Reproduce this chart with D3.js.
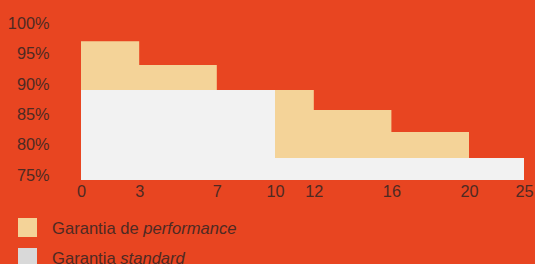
<!DOCTYPE html>
<html><head><meta charset="utf-8">
<script src="https://cdn.jsdelivr.net/npm/d3@7"></script>
<style>
html,body{margin:0;padding:0;background:#E84521;}
svg{display:block;}
text{font-family:"Liberation Sans",Arial,sans-serif;}
</style></head><body>
<div id="chart"></div>
<script>
// Data
const xTicks = [0, 3, 7, 10, 12, 16, 20, 25];
const yTicks = [75, 80, 85, 90, 95, 100];
const performanceSteps = [
  {x0: 0, x1: 3, v: 97.0},
  {x0: 3, x1: 7, v: 93.1},
  {x0: 7, x1: 10, v: 89.0},
  {x0: 10, x1: 12, v: 89.0},
  {x0: 12, x1: 16, v: 85.7},
  {x0: 16, x1: 20, v: 82.1},
  {x0: 20, x1: 25, v: 77.8}
];
const standardSteps = [
  {x0: 0, x1: 10, v: 89.0},
  {x0: 10, x1: 25, v: 77.8}
];
const legendItems = [
  {plain: "Garantia de ", italic: "performance", color: "#F4D398"},
  {plain: "Garantia ", italic: "standard", color: "#D9D9D9"}
];

const W = 535, H = 264;
const bg = "#E84521", textColor = "#4e2a23";
const svg = d3.select("#chart").append("svg").attr("width", W).attr("height", H);
svg.append("rect").attr("width", W).attr("height", H).attr("fill", bg);

const x = d3.scaleLinear().domain([0, 20, 25]).range([81, 469, 524]);
const y = d3.scaleLinear().domain([74.2, 100]).range([180, 23]);

function stepPath(steps) {
  const pts = [];
  steps.forEach(s => { pts.push([s.x0, s.v]); pts.push([s.x1, s.v]); });
  return d3.area().x(d => x(d[0])).y0(y.range()[0]).y1(d => y(d[1]))(pts);
}

svg.append("path").attr("d", stepPath(performanceSteps)).attr("fill", "#F4D398");
svg.append("path").attr("d", stepPath(standardSteps)).attr("fill", "#F2F2F2");

// Y axis
const yAxis = svg.append("g").attr("transform", "translate(49.5,0)")
  .call(d3.axisLeft(y).tickValues(yTicks).tickSize(0).tickPadding(0).tickFormat(d => d + "%"));
yAxis.select(".domain").remove();
yAxis.selectAll("text").attr("font-size", 16.3).attr("fill", textColor)
  .attr("font-family", "Liberation Sans, Arial, sans-serif");

// X axis
const xAxis = svg.append("g").attr("transform", "translate(0,182)")
  .call(d3.axisBottom(x).tickValues(xTicks).tickSize(0).tickPadding(3));
xAxis.select(".domain").remove();
xAxis.selectAll("text").attr("font-size", 16.3).attr("fill", textColor)
  .attr("font-family", "Liberation Sans, Arial, sans-serif");

// Legend
const leg = svg.append("g");
legendItems.forEach((d, i) => {
  const gy = 218 + i * 30;
  leg.append("rect").attr("x", 18).attr("y", gy).attr("width", 19).attr("height", 19).attr("fill", d.color);
  const t = leg.append("text").attr("x", 52).attr("y", gy + 16).attr("font-size", 16.6).attr("fill", textColor);
  t.append("tspan").text(d.plain);
  t.append("tspan").attr("font-style", "italic").text(d.italic);
});
</script>
</body></html>
